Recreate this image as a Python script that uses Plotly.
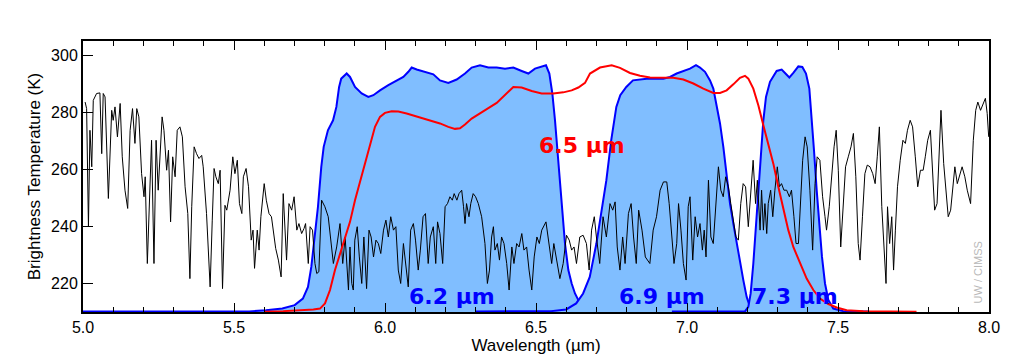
import plotly.graph_objects as go

# ---------------- data ----------------
spec_wl = [5.007, 5.012, 5.018, 5.023, 5.029, 5.034, 5.045, 5.056, 5.062, 5.067, 5.073, 5.084, 5.095, 5.100, 5.106, 5.114,
           5.123, 5.130, 5.139, 5.148, 5.156, 5.164, 5.172, 5.178, 5.185, 5.194, 5.202, 5.206, 5.213, 5.220, 5.227, 5.235,
           5.242, 5.249, 5.255, 5.262, 5.268, 5.277, 5.283, 5.290, 5.297, 5.305, 5.312, 5.321, 5.329, 5.338, 5.347, 5.354,
           5.360, 5.368, 5.376, 5.384, 5.393, 5.398, 5.409, 5.421, 5.428, 5.434, 5.440, 5.448, 5.454, 5.462, 5.470, 5.476,
           5.487, 5.496, 5.503, 5.511, 5.518, 5.526, 5.531, 5.540, 5.548, 5.557, 5.563, 5.568, 5.577, 5.583, 5.589, 5.600,
           5.607, 5.616, 5.624, 5.630, 5.638, 5.647, 5.656, 5.663, 5.671, 5.674, 5.682, 5.691, 5.699, 5.708, 5.715, 5.724,
           5.732, 5.737, 5.746, 5.752, 5.760, 5.768, 5.774, 5.781, 5.790, 5.801, 5.812, 5.823, 5.829, 5.840,
           5.851, 5.860, 5.868, 5.879, 5.884, 5.890, 5.895, 5.900, 5.908, 5.915, 5.923, 5.930, 5.939, 5.947, 5.954, 5.962,
           5.970, 5.978, 5.986, 5.995, 6.003, 6.011, 6.019, 6.028, 6.036, 6.044, 6.052, 6.061, 6.069, 6.077, 6.085, 6.094,
           6.101, 6.110, 6.117, 6.126, 6.134, 6.143, 6.150, 6.160, 6.168, 6.174, 6.182, 6.191, 6.199, 6.207, 6.215, 6.223,
           6.229, 6.238, 6.245, 6.254, 6.260, 6.265, 6.270, 6.278, 6.284, 6.292, 6.300, 6.309, 6.320, 6.331, 6.339, 6.346,
           6.353, 6.359, 6.364, 6.372, 6.379, 6.386, 6.394, 6.403, 6.411, 6.420, 6.427, 6.436, 6.444, 6.453, 6.460, 6.469,
           6.477, 6.486, 6.494, 6.503, 6.511, 6.519, 6.533, 6.544, 6.552, 6.559, 6.568, 6.579, 6.590, 6.601, 6.610, 6.618,
           6.626, 6.634, 6.645, 6.656, 6.667, 6.676, 6.684, 6.693, 6.700, 6.711, 6.722, 6.733, 6.745, 6.754, 6.762, 6.769,
           6.778, 6.787, 6.795, 6.806, 6.815, 6.823, 6.832, 6.840, 6.851, 6.862,
           6.877, 6.888, 6.899, 6.911, 6.922, 6.933, 6.941, 6.949, 6.957, 6.966, 6.972, 6.980, 6.988, 6.997, 7.004, 7.010,
           7.019, 7.027, 7.035, 7.043, 7.051, 7.057, 7.063, 7.071, 7.079, 7.087, 7.096, 7.104, 7.112, 7.120, 7.128, 7.137,
           7.145, 7.154, 7.162, 7.170, 7.178, 7.186, 7.194, 7.203, 7.211, 7.219, 7.227, 7.233, 7.242, 7.247, 7.253, 7.258,
           7.264, 7.269, 7.277, 7.284, 7.291, 7.299, 7.306, 7.313, 7.321, 7.330, 7.339, 7.346, 7.354, 7.361, 7.369, 7.377,
           7.383, 7.391, 7.398, 7.407, 7.416, 7.424, 7.431, 7.440, 7.449, 7.457, 7.462, 7.471, 7.479, 7.487, 7.494, 7.501,
           7.509, 7.518, 7.525, 7.534, 7.543, 7.551, 7.559, 7.567, 7.573, 7.581, 7.589, 7.597, 7.606, 7.615, 7.623, 7.630,
           7.637, 7.645, 7.653, 7.659, 7.664, 7.671, 7.678, 7.684, 7.690, 7.697, 7.706, 7.715, 7.723, 7.730, 7.739, 7.747,
           7.756, 7.764, 7.773, 7.782, 7.789, 7.797, 7.806, 7.813, 7.820, 7.828, 7.836, 7.841, 7.850, 7.858, 7.865, 7.873,
           7.880, 7.887, 7.895, 7.902, 7.911, 7.920, 7.928, 7.939, 7.948, 7.956, 7.963, 7.972, 7.980, 7.988, 7.994, 7.999]
spec_bt = [283.6, 281.3, 239.9, 273.7, 260.9, 284.2, 286.6, 286.8, 265.5, 286.6, 285.4, 249.8, 280.7, 277.2, 281.9, 271.4,
           283.1, 264.4, 252.7, 246.3, 273.7, 281.3, 269.1, 281.3, 278.4, 258.5, 250.4, 257.4, 227.0, 252.7, 270.2, 227.0,
           270.2, 252.7, 264.4, 278.4, 273.7, 259.7, 266.7, 241.6, 264.4, 257.4, 273.7, 274.9, 271.4, 253.9, 244.5, 221.7,
           246.9, 267.9, 265.5, 263.8, 264.9, 260.9, 244.5, 218.8, 242.2, 260.3, 257.4, 255.0, 259.7, 218.2, 247.4, 245.7,
           252.7, 264.4, 258.5, 263.2, 248.0, 244.5, 257.4, 260.3, 253.9, 235.2, 238.7, 225.3, 238.7, 231.7, 243.4, 255.0,
           249.2, 244.5, 243.4, 238.7, 232.3, 228.2, 222.3, 251.5, 237.5, 228.2, 248.0, 245.7, 250.4, 238.7, 241.0, 237.5,
           239.3, 241.0, 227.0, 239.9, 238.7, 227.0, 223.5, 224.1, 249.2, 246.9, 243.4, 232.8, 227.0, 232.8,
           241.0, 227.0, 236.3, 217.7, 232.8, 220.0, 217.7, 235.2, 239.9, 229.3, 220.0, 236.3, 218.2, 238.7, 236.3, 229.3,
           235.2, 234.0, 230.5, 238.7, 242.2, 236.3, 243.4, 238.7, 239.9, 224.7, 220.0, 234.0, 227.0, 218.8, 238.7, 241.0,
           235.2, 224.7, 231.7, 243.4, 244.5, 227.0, 236.3, 239.9, 227.0, 241.6, 237.5, 227.0, 246.9, 248.0, 250.4, 249.2,
           251.5, 249.2, 251.5, 252.7, 246.9, 241.0, 248.0, 243.4, 248.0, 251.5, 250.4, 248.0, 243.4, 234.0, 220.0, 224.7,
           236.3, 239.9, 231.7, 234.0, 228.2, 236.3, 234.0, 227.0, 217.7, 232.8, 227.0, 234.0, 232.8, 237.5, 231.7, 232.8,
           224.7, 217.7, 229.3, 236.3, 234.0, 238.7, 241.6, 234.0, 227.0, 234.0, 228.2, 221.7, 227.0, 236.9, 235.2, 231.7,
           232.8, 227.0, 236.3, 236.9, 234.0, 224.7, 238.7, 243.4, 236.3, 227.0, 243.4, 236.3, 248.0, 245.7, 248.6, 232.8,
           224.7, 236.3, 227.0, 244.5, 248.0, 236.3, 227.0, 245.7, 238.7, 229.3,
           227.0, 238.7, 243.4, 252.7, 255.6, 255.6, 248.0, 237.5, 227.0, 234.0, 248.0, 238.7, 227.0, 221.2, 246.9, 250.4,
           228.2, 243.4, 236.3, 241.0, 231.7, 238.7, 229.3, 256.2, 236.3, 234.0, 250.4, 260.9, 252.7, 250.4, 257.4, 253.9,
           248.0, 241.0, 236.3, 235.2, 248.0, 255.0, 253.9, 239.9, 252.7, 263.2, 248.0, 256.2, 238.7, 252.7, 238.7, 248.0,
           237.5, 248.0, 252.7, 243.4, 252.7, 260.9, 253.9, 255.0, 252.7, 252.7, 250.4, 252.7, 243.4, 234.0, 234.0, 250.4,
           263.2, 271.4, 267.9, 252.7, 231.7, 255.0, 264.4, 263.2, 250.4, 243.4, 238.7, 246.9, 257.4, 267.9, 273.7, 259.7,
           232.8, 248.0, 260.9, 264.4, 267.9, 272.6, 257.4, 234.0, 228.2, 243.4, 258.5, 261.5, 260.9, 258.5, 255.0, 264.4,
           274.9, 246.9, 231.7, 220.0, 246.9, 234.0, 243.4, 224.7, 238.7, 253.9, 263.2, 270.2, 269.1, 273.7, 277.2, 274.9,
           264.4, 253.9, 259.7, 259.7, 264.4, 270.2, 273.7, 257.4, 245.7, 248.0, 266.7, 280.7, 262.0, 250.4, 243.4, 245.7,
           253.9, 260.9, 255.0, 257.4, 260.9, 257.4, 252.7, 248.0, 270.2, 280.7, 283.6, 280.7, 283.1, 284.9, 279.6, 271.4]

# spectral response functions, plotted on the temperature scale
srf62_wl = [5.00, 5.55, 5.606, 5.66, 5.701, 5.728, 5.745, 5.756, 5.767, 5.778, 5.789, 5.797, 5.811, 5.828, 5.839, 5.848,
            5.855, 5.8731, 5.8841, 5.9007, 5.9227, 5.9448, 5.9614, 5.9834, 6.011, 6.0386, 6.0607, 6.0773, 6.0883, 6.1049,
            6.1325, 6.16, 6.1821, 6.2097, 6.2373, 6.2649, 6.287, 6.3146, 6.3422, 6.3698, 6.3974, 6.4249, 6.4525, 6.4746,
            6.4967, 6.5188, 6.5331, 6.5442, 6.5541, 6.5629, 6.574, 6.585, 6.596, 6.6071, 6.6181, 6.6291, 6.6457, 6.6678,
            6.7119, 6.76]
srf62_bt = [210.2, 210.2, 210.6, 211.2, 212.4, 214.7, 218.8, 225.8, 236.3, 246.9, 260.9, 267.9, 273.7, 277.2, 281.9, 288.9,
            291.8, 293.6, 292.4, 288.9, 286.6, 285.4, 286.0, 287.7, 289.5, 291.2, 292.4, 294.2, 295.7, 295.0,
            294.2, 293.3, 291.2, 290.3, 291.5, 293.6, 295.7, 296.5, 295.7, 295.7, 295.3, 295.7, 294.5, 293.6,
            295.3, 296.1, 296.5, 293.6, 286.6, 277.2, 262.0, 246.9, 234.0, 224.7, 220.0, 216.5, 213.0, 210.9,
            210.2, 210.2]

srf69_wl = [6.30, 6.55, 6.600, 6.633, 6.656, 6.678, 6.700, 6.716, 6.733, 6.749, 6.766, 6.779, 6.799, 6.821, 6.8664,
            6.9216, 6.9437, 6.9658, 6.9879, 7.0099, 7.0298, 7.043, 7.0596, 7.0762, 7.0872, 7.0982, 7.1093, 7.1203,
            7.1313, 7.1424, 7.1534, 7.1645, 7.1755, 7.1865, 7.1976, 7.2086, 7.2252, 7.30]
srf69_bt = [210.2, 210.3, 210.9, 213.0, 216.5, 222.3, 234.0, 244.5, 256.2, 270.2, 281.9, 286.0, 288.9, 291.2, 291.8,
            291.8, 292.4, 293.6, 294.4, 295.3, 296.5, 295.7, 294.2, 291.2, 288.3, 281.9, 276.1, 267.9,
            258.5, 248.0, 241.0, 234.0, 227.0, 221.2, 215.3, 211.8, 210.3, 210.2]

srf73_wl = [6.95, 7.1921, 7.2031, 7.2108, 7.2196, 7.2307, 7.2417, 7.2528, 7.2616, 7.2748, 7.2969, 7.3135, 7.3245,
            7.3389, 7.3521, 7.3687, 7.3819, 7.394, 7.4051, 7.4128, 7.4205, 7.4294, 7.4382, 7.447, 7.457, 7.468,
            7.4845, 7.5177, 7.60]
srf73_bt = [210.2, 210.2, 211.8, 216.5, 227.0, 243.4, 262.0, 277.2, 285.4, 290.7, 294.5, 295.0, 293.8,
            292.2, 293.8, 296.1, 295.9, 293.6, 288.3, 278.4, 266.7, 252.7, 239.9, 229.3, 220.0, 214.2,
            211.2, 210.3, 210.2]

srf65_wl = [5.60, 5.663, 5.7627, 5.7848, 5.8013, 5.8179, 5.8344, 5.851, 5.8675, 5.8841,
            5.9007, 5.9172, 5.9338, 5.9503, 5.9669, 5.9834, 6.0, 6.0221, 6.0442, 6.0717,
            6.1049, 6.1435, 6.1821, 6.2097, 6.2318, 6.2483, 6.2649, 6.287, 6.3146, 6.3422,
            6.3698, 6.3974, 6.4249, 6.4525, 6.4857, 6.5188, 6.5574, 6.5905, 6.6181, 6.6402,
            6.6623, 6.6788, 6.7119, 6.7506, 6.7781, 6.8113, 6.8444, 6.8775, 6.9216, 6.9547,
            6.9879, 7.021, 7.0541, 7.0872, 7.1093, 7.1313, 7.1534, 7.1755, 7.1921, 7.2031,
            7.2196, 7.2362, 7.2528, 7.2693, 7.2859, 7.3024, 7.319, 7.3355, 7.3521, 7.3742,
            7.3962, 7.4183, 7.4404, 7.468, 7.4956, 7.5287, 7.5839, 7.76]
srf65_bt = [210.1, 210.3, 210.9, 211.2, 213.0, 217.7, 224.7, 230.5, 236.3, 241.6,
            249.2, 255.6, 262.0, 269.0, 274.9, 278.4, 279.8, 280.4, 280.3, 279.6,
            278.6, 277.5, 276.1, 274.9, 274.2, 274.4, 275.7, 277.8, 279.8, 281.5,
            283.3, 286.0, 288.9, 288.7, 287.5, 286.6, 286.6, 287.0, 287.7, 288.7,
            290.3, 293.6, 295.7, 296.5, 295.6, 293.8, 292.8, 292.2, 292.1, 292.1,
            291.5, 290.1, 288.3, 286.8, 286.8, 287.7, 289.8, 292.1, 292.8, 291.8,
            288.3, 282.5, 275.5, 269.0, 262.0, 253.9, 245.7, 238.7, 232.8, 227.0,
            221.7, 217.7, 214.7, 212.8, 211.6, 210.6, 210.3, 210.1]

band_labels = ["6.2 µm", "6.9 µm", "7.3 µm"]
band_label_x = [6.222, 6.917, 7.358]
red_label = "6.5 µm"

# ---------------- figure ----------------
FILL = "rgb(128,190,255)"
BLUE = "rgb(0,0,255)"
RED = "rgb(255,0,0)"

fig = go.Figure()
for wl, bt in [(srf62_wl, srf62_bt), (srf69_wl, srf69_bt), (srf73_wl, srf73_bt)]:
    fig.add_trace(go.Scatter(x=wl, y=bt, mode="lines", fill="tozeroy", fillcolor=FILL,
                             line=dict(color=BLUE, width=2), hoverinfo="skip"))
fig.add_trace(go.Scatter(x=spec_wl, y=spec_bt, mode="lines", line=dict(color="black", width=1)))
fig.add_trace(go.Scatter(x=srf65_wl, y=srf65_bt, mode="lines", line=dict(color=RED, width=2)))

lab_font = dict(family="DejaVu Sans", size=22, color=BLUE)
for txt, xx in zip(band_labels, band_label_x):
    fig.add_annotation(x=xx, y=215.6, text="<b>%s</b>" % txt, showarrow=False, font=lab_font,
                       xanchor="center", yanchor="middle")
fig.add_annotation(x=6.652, y=268.5, text="<b>%s</b>" % red_label, showarrow=False,
                   font=dict(family="DejaVu Sans", size=22, color=RED), xanchor="center", yanchor="middle")
fig.add_annotation(x=7.965, y=224, text="UW / CIMSS", showarrow=False, textangle=-90,
                   font=dict(family="Liberation Sans", size=11, color="rgb(185,185,185)"))

axis_common = dict(showline=True, linecolor="black", linewidth=2, ticks="inside",
                   tickcolor="black", tickwidth=1, showgrid=False, zeroline=False,
                   tickfont=dict(family="Liberation Sans", size=16, color="black"))
fig.update_xaxes(range=[5.0, 8.0], dtick=0.5, tick0=5.0, tickformat=".1f", ticklen=9, mirror="ticks",
                 minor=dict(dtick=0.1, ticks="inside", ticklen=5, tickcolor="black", showgrid=False),
                 title=dict(text="Wavelength (µm)", font=dict(family="Liberation Sans", size=17, color="black"),
                            standoff=2), **axis_common)
fig.update_yaxes(range=[210, 305], dtick=20, tick0=220, ticklen=10, mirror=True,
                 title=dict(text="Brightness Temperature (K)",
                            font=dict(family="Liberation Sans", size=17, color="black"), standoff=6),
                 **axis_common)

# page body has an 8px margin, so the margins are shifted to land the plot box where the reference has it
fig.update_layout(width=1015, height=362, margin=dict(l=75, r=34, t=33, b=58, autoexpand=False),
                  plot_bgcolor="white", paper_bgcolor="white", showlegend=False)
fig.write_html("out.html")
